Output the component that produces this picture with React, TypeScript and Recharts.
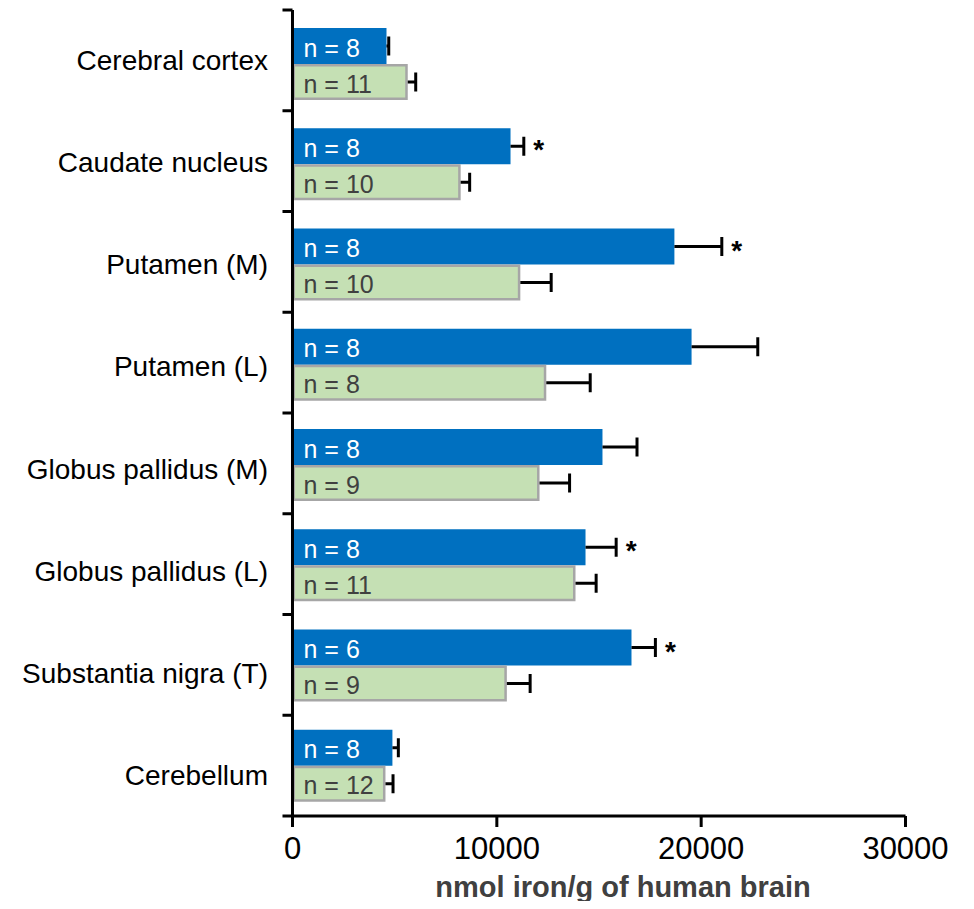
import React from 'react';
import { BarChart, Bar, XAxis, YAxis, Label } from 'recharts';

// Brain regions, top to bottom
const regions = [
  'Cerebral cortex',
  'Caudate nucleus',
  'Putamen (M)',
  'Putamen (L)',
  'Globus pallidus (M)',
  'Globus pallidus (L)',
  'Substantia nigra (T)',
  'Cerebellum',
];

// First group (blue): mean, SEM, sample size, significance mark
const groupAMean = [4600, 10670, 18690, 19530, 15170, 14340, 16590, 4890];
const groupAErr = [110, 650, 2320, 3240, 1690, 1500, 1170, 290];
const groupAN = [8, 8, 8, 8, 8, 8, 6, 8];
const groupASig = ['', '*', '*', '', '', '*', '*', ''];

// Second group (green): mean, SEM, sample size
const groupBMean = [5640, 8230, 11150, 12420, 12090, 13850, 10490, 4550];
const groupBErr = [390, 440, 1510, 2150, 1470, 1010, 1140, 370];
const groupBN = [11, 10, 10, 8, 9, 11, 9, 12];

const xTicks = [0, 10000, 20000, 30000];
// Category slot boundaries on the vertical axis
const boundaryTicks = [0, 1, 2, 3, 4, 5, 6, 7, 8];

const data = regions.map((region, i) => ({
  region,
  slot: i + 0.5,
  a: groupAMean[i],
  aErr: groupAErr[i],
  aN: groupAN[i],
  aSig: groupASig[i],
  b: groupBMean[i],
  bErr: groupBErr[i],
  bN: groupBN[i],
  bSig: '',
}));

const FONT = "Arial, 'Liberation Sans', sans-serif";
const BLUE = '#0070C0';
const GREEN = '#C5E0B4';
const GREEN_EDGE = '#A6A6A6';

// Bar with a one-sided (positive) error whisker, an "n = .." label and an optional mark
function makeBarShape(kind: 'a' | 'b') {
  return (props: any) => {
    const { x, y, width, height, payload } = props;
    const value = payload[kind];
    const err = payload[kind + 'Err'];
    const n = payload[kind + 'N'];
    const sig = payload[kind + 'Sig'];
    const pxPerUnit = value ? width / value : 0;
    const end = x + width;
    const errEnd = end + err * pxPerUnit;
    const cy = y + height / 2;
    const capHalf = 9.5;
    return (
      <g>
        {kind === 'a' ? (
          <rect x={x} y={y} width={width} height={height} fill={BLUE} />
        ) : (
          <rect
            x={x + 1.25}
            y={y + 1.25}
            width={Math.max(width - 2.5, 0)}
            height={height - 2.5}
            fill={GREEN}
            stroke={GREEN_EDGE}
            strokeWidth={2.5}
          />
        )}
        <line x1={end} y1={cy} x2={errEnd} y2={cy} stroke="#000" strokeWidth={3} />
        <line x1={errEnd} y1={cy - capHalf} x2={errEnd} y2={cy + capHalf} stroke="#000" strokeWidth={3} />
        <text
          x={x + 11}
          y={cy + 10.5}
          fontFamily={FONT}
          fontSize={25}
          fill={kind === 'a' ? '#FFFFFF' : '#404040'}
        >
          {`n = ${n}`}
        </text>
        {sig ? (
          <text
            x={errEnd + 15}
            y={cy + 13}
            fontFamily={FONT}
            fontSize={28}
            fontWeight="bold"
            textAnchor="middle"
            fill="#000"
          >
            {sig}
          </text>
        ) : null}
      </g>
    );
  };
}

// Tick marks only, no text
const NoTickText = () => <g />;

export default function App() {
  return (
    <div style={{ width: 958, height: 893, overflow: 'visible' }}>
      <BarChart
        width={958}
        height={901}
        data={data}
        layout="vertical"
        margin={{ top: 2, right: 60.5, bottom: 0, left: 0 }}
        barSize={36}
        barGap={0}
      >
        <XAxis
          type="number"
          domain={[0, 30000]}
          ticks={xTicks}
          allowDataOverflow
          height={93}
          tickSize={11}
          tickMargin={10}
          axisLine={{ stroke: '#000', strokeWidth: 3 }}
          tickLine={{ stroke: '#000', strokeWidth: 3 }}
          tick={{ fill: '#000', fontSize: 31, fontFamily: FONT }}
        >
          <Label
            value="nmol iron/g of human brain"
            position="insideBottom"
            offset={12}
            dx={24}
            fill="#404040"
            fontSize={29}
            fontWeight="bold"
            fontFamily={FONT}
          />
        </XAxis>
        {/* Axis line with tick marks on the slot boundaries (nearest the plot) */}
        <YAxis
          yAxisId="bounds"
          type="number"
          dataKey="slot"
          domain={[0, 8]}
          ticks={boundaryTicks}
          allowDataOverflow
          interval={0}
          width={0.01}
          tick={<NoTickText />}
          tickSize={10}
          axisLine={{ stroke: '#000', strokeWidth: 3 }}
          tickLine={{ stroke: '#000', strokeWidth: 3 }}
        />
        {/* Region names */}
        <YAxis
          yAxisId="labels"
          type="category"
          dataKey="region"
          width={284.49}
          padding={{ top: -1, bottom: -10 }}
          axisLine={false}
          tickLine={false}
          tickSize={10}
          tickMargin={14.5}
          interval={0}
          tick={{ fill: '#000', fontSize: 28, fontFamily: FONT }}
        />
        {/* Band scale that places the bar pairs */}
        <YAxis
          yAxisId="bars"
          type="category"
          dataKey="region"
          hide
          width={0.01}
          padding={{ top: 4, bottom: 0 }}
        />
        <Bar
          yAxisId="bars"
          dataKey="a"
          isAnimationActive={false}
          shape={makeBarShape('a')}
        />
        <Bar
          yAxisId="bars"
          dataKey="b"
          isAnimationActive={false}
          shape={makeBarShape('b')}
        />
      </BarChart>
    </div>
  );
}
